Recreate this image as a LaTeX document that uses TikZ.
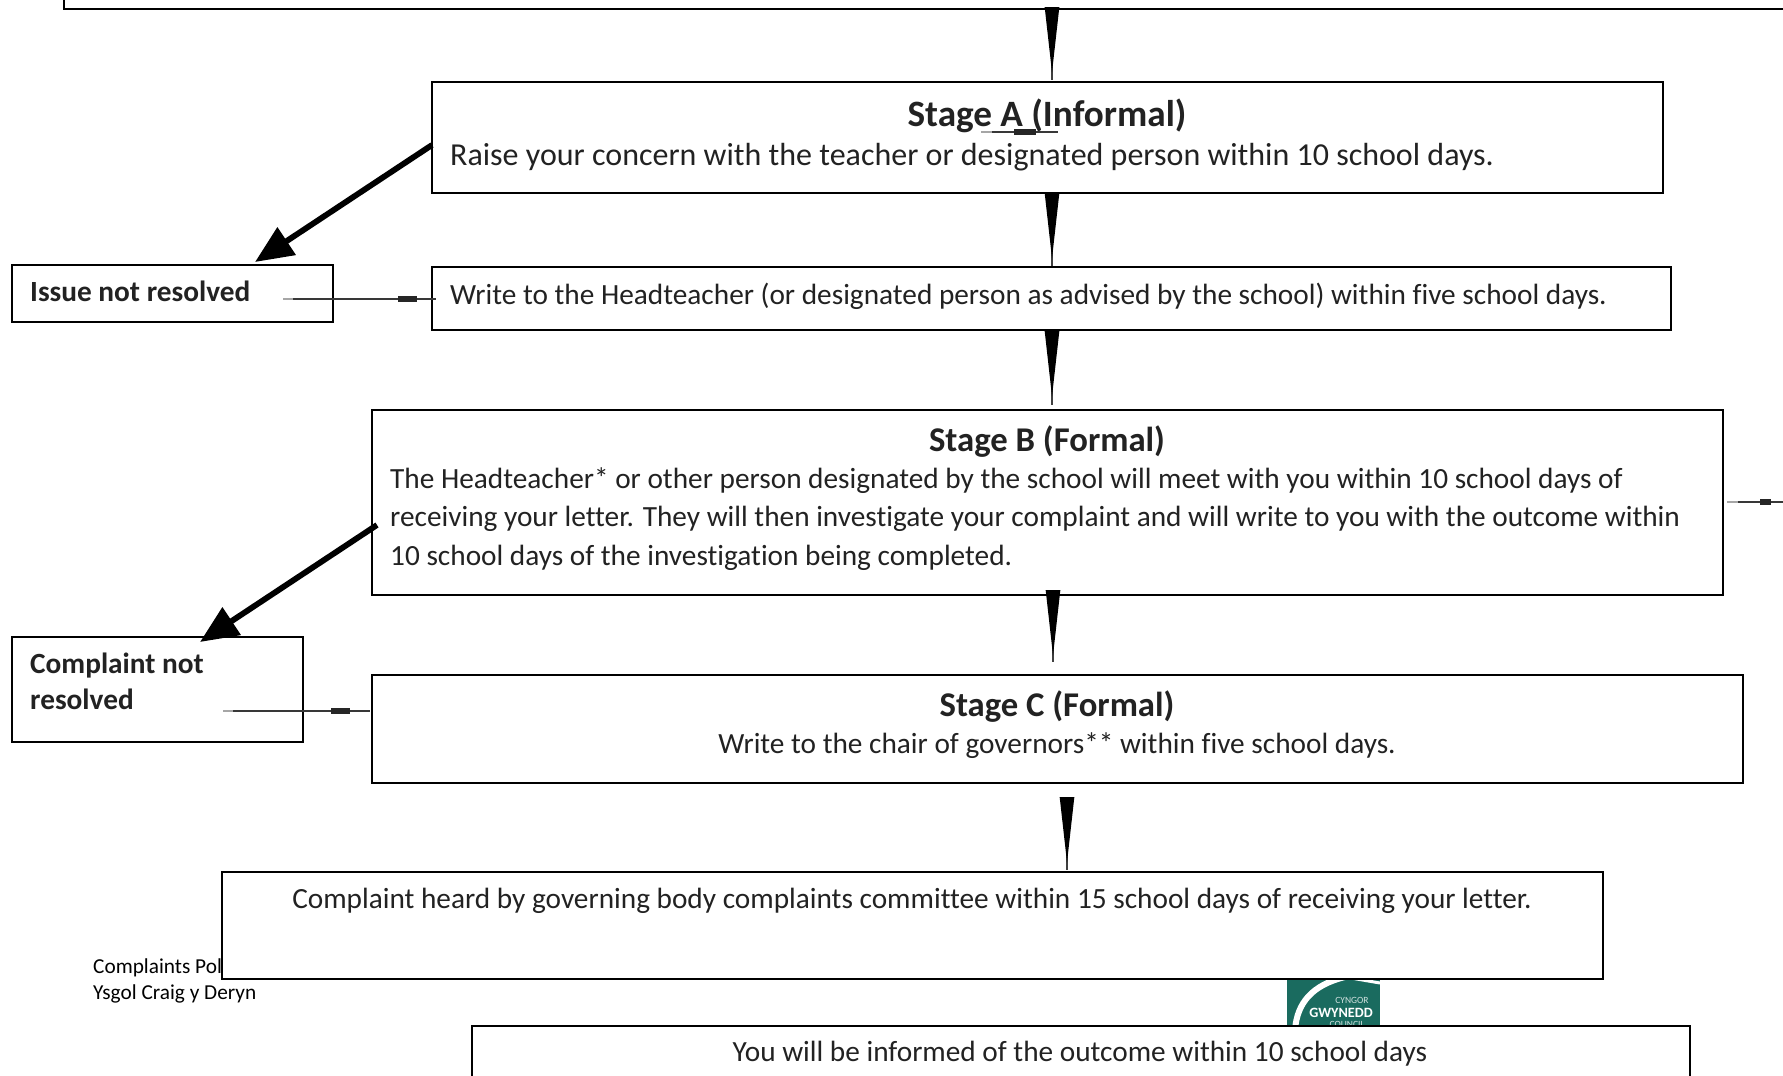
\documentclass[tikz,border=0pt]{standalone}
\usepackage{fontspec}
\setmainfont[Ligatures=NoCommon]{Carlito}
\usetikzlibrary{arrows.meta,positioning,calc}
\definecolor{ink}{HTML}{222222}
\definecolor{logogreen}{HTML}{1A6B5F}
\tikzset{
  x=1pt,y=-1pt,
  boxn/.style={draw=black,line width=2.2pt,fill=white,inner sep=0pt,anchor=north west},
  body/.style={font=\fontsize{29.3}{32}\selectfont,text=ink,inner sep=0pt,anchor=mid west},
  bodyc/.style={body,anchor=mid},
  bodyl/.style={font=\fontsize{32}{34}\selectfont,text=ink,inner sep=0pt,anchor=mid west},
  title/.style={font=\fontsize{34.7}{38}\selectfont\bfseries,text=ink,inner sep=0pt,anchor=mid},
  titlel/.style={font=\fontsize{37.2}{40}\selectfont\bfseries,text=ink,inner sep=0pt,anchor=mid},
  side/.style={font=\fontsize{29.3}{32}\selectfont\bfseries,text=ink,inner sep=0pt,anchor=mid west},
  foot/.style={font=\fontsize{21.3}{24}\selectfont,text=black,inner sep=0pt,anchor=mid west},
  wedge/.style={draw=black!75,line width=2.4pt,{Triangle[reversed,length=66pt,width=14pt,fill=black,color=black]}-},
  diag/.style={draw=black,line width=5.8pt,-{Triangle[length=38pt,width=32pt,fill=black,color=black]}},
  thinl/.style={draw=black!78,line width=2.6pt},
  fadel/.style={draw=black!35,line width=2.6pt},
  block/.style={draw=black!85,line width=5.5pt},
}
\newcommand{\bx}[5]{\node[boxn,minimum width=#4-#2,minimum height=#5-#3] (#1) at (#2,#3) {};}
\begin{document}
\begin{tikzpicture}
\useasboundingbox (0,0) rectangle (1783,1076);
\fill[white] (0,0) rectangle (1783,1076);
% footer and logo (behind the boxes)
\node[foot] (ft1) at (93,971) {Complaints Pol};
\node[foot] (ft2) at (93,997) {Ysgol Craig y Deryn};
\fill[logogreen] (1287,975) rectangle (1380,1030);
\draw[white,line width=6pt] (1295,1030) .. controls (1297,1003) and (1312,985) .. (1345,977);
\draw[white,line width=3pt] (1345,977) -- (1380,983);
\node[font=\fontsize{9.5}{10}\selectfont,text=white!80!logogreen,inner sep=0pt] (lg1) at (1352,1000) {CYNGOR};
\node[font=\fontsize{14.2}{16}\selectfont\bfseries,text=white,inner sep=0pt] (lg2) at (1341,1013) {GWYNEDD};
\node[font=\fontsize{9.5}{10}\selectfont,text=white!80!logogreen,inner sep=0pt] (lg3) at (1347,1024) {COUNCIL};
% boxes
\node[boxn,minimum width=1800,minimum height=60] (top) at (63,-52) {};
\bx{stageA}{431}{81}{1662}{192}
\bx{write}{431}{266}{1670}{329}
\bx{issue}{11}{264}{332}{321}
\bx{stageB}{371}{409}{1722}{594}
\bx{notres}{11}{636}{302}{741}
\bx{stageC}{371}{674}{1742}{782}
\bx{heard}{221}{871}{1602}{978}
\node[boxn,minimum width=1218,minimum height=90] (last) at (471,1025) {};
% texts
\node[titlel] (tA) at (1047,124) {Stage A (Informal)};
\node[bodyl] (bA) at (450,163) {Raise your concern with the teacher or designated person within 10 school days.};
\node[side] (tI) at (30,299) {Issue not resolved};
\node[body] (bW) at (450,302) {Write to the Headteacher (or designated person as advised by the school) within five school days.};
\node[title] (tB) at (1047,449) {Stage B (Formal)};
\node[body] (bB1) at (390,486) {The Headteacher* or other person designated by the school will meet with you within 10 school days of};
\node[body] (bB2) at (390,524) {receiving your letter. They will then investigate your complaint and will write to you with the outcome within};
\node[body] (bB3) at (390,563) {10 school days of the investigation being completed.};
\node[side] (tN1) at (30,671) {Complaint not};
\node[side] (tN2) at (30,707) {resolved};
\node[title] (tC) at (1057,714) {Stage C (Formal)};
\node[bodyc] (bC) at (1057,751) {Write to the chair of governors** within five school days.};
\node[bodyc] (bH) at (912,906) {Complaint heard by governing body complaints committee within 15 school days of receiving your letter.};
\node[bodyc] (bL) at (1080,1059) {You will be informed of the outcome within 10 school days};
% wedge connectors
\coordinate (w1a) at (1052,7);   \coordinate (w1b) at (1052,80);
\coordinate (w2a) at (1052,193); \coordinate (w2b) at (1052,266);
\coordinate (w3a) at (1052,331); \coordinate (w3b) at (1052,405);
\coordinate (w4a) at (1053,590); \coordinate (w4b) at (1053,662);
\coordinate (w5a) at (1067,797); \coordinate (w5b) at (1067,870);
\draw[wedge] (w1a) -- (w1b);
\draw[wedge] (w2a) -- (w2b);
\draw[wedge] (w3a) -- (w3b);
\draw[wedge] (w4a) -- (w4b);
\draw[wedge] (w5a) -- (w5b);
% diagonal connectors
\coordinate (d1a) at (432,145); \coordinate (d1b) at (255,262);
\coordinate (d2a) at (377,525); \coordinate (d2b) at (200,642);
\draw[diag] (d1a) -- (d1b);
\draw[diag] (d2a) -- (d2b);
% thin horizontal connectors
\coordinate (h1a) at (283,299); \coordinate (h1f) at (293,299); \coordinate (h1c) at (398,299); \coordinate (h1d) at (417,299); \coordinate (h1b) at (436,299);
\coordinate (h2a) at (223,711); \coordinate (h2f) at (233,711); \coordinate (h2c) at (331,711); \coordinate (h2d) at (350,711); \coordinate (h2b) at (370,711);
\coordinate (h3a) at (1727,502); \coordinate (h3f) at (1738,502); \coordinate (h3c) at (1760,502); \coordinate (h3d) at (1771,502); \coordinate (h3b) at (1783,502);
\coordinate (h4a) at (981,132); \coordinate (h4f) at (992,132); \coordinate (h4c) at (1014,132); \coordinate (h4d) at (1036,132); \coordinate (h4b) at (1058,132);
\foreach \h in {h1,h2,h3,h4}{
  \draw[fadel] (\h a) -- (\h f);
  \draw[thinl] (\h f) -- (\h b);
  \draw[block] (\h c) -- (\h d);
}
\end{tikzpicture}
\end{document}
